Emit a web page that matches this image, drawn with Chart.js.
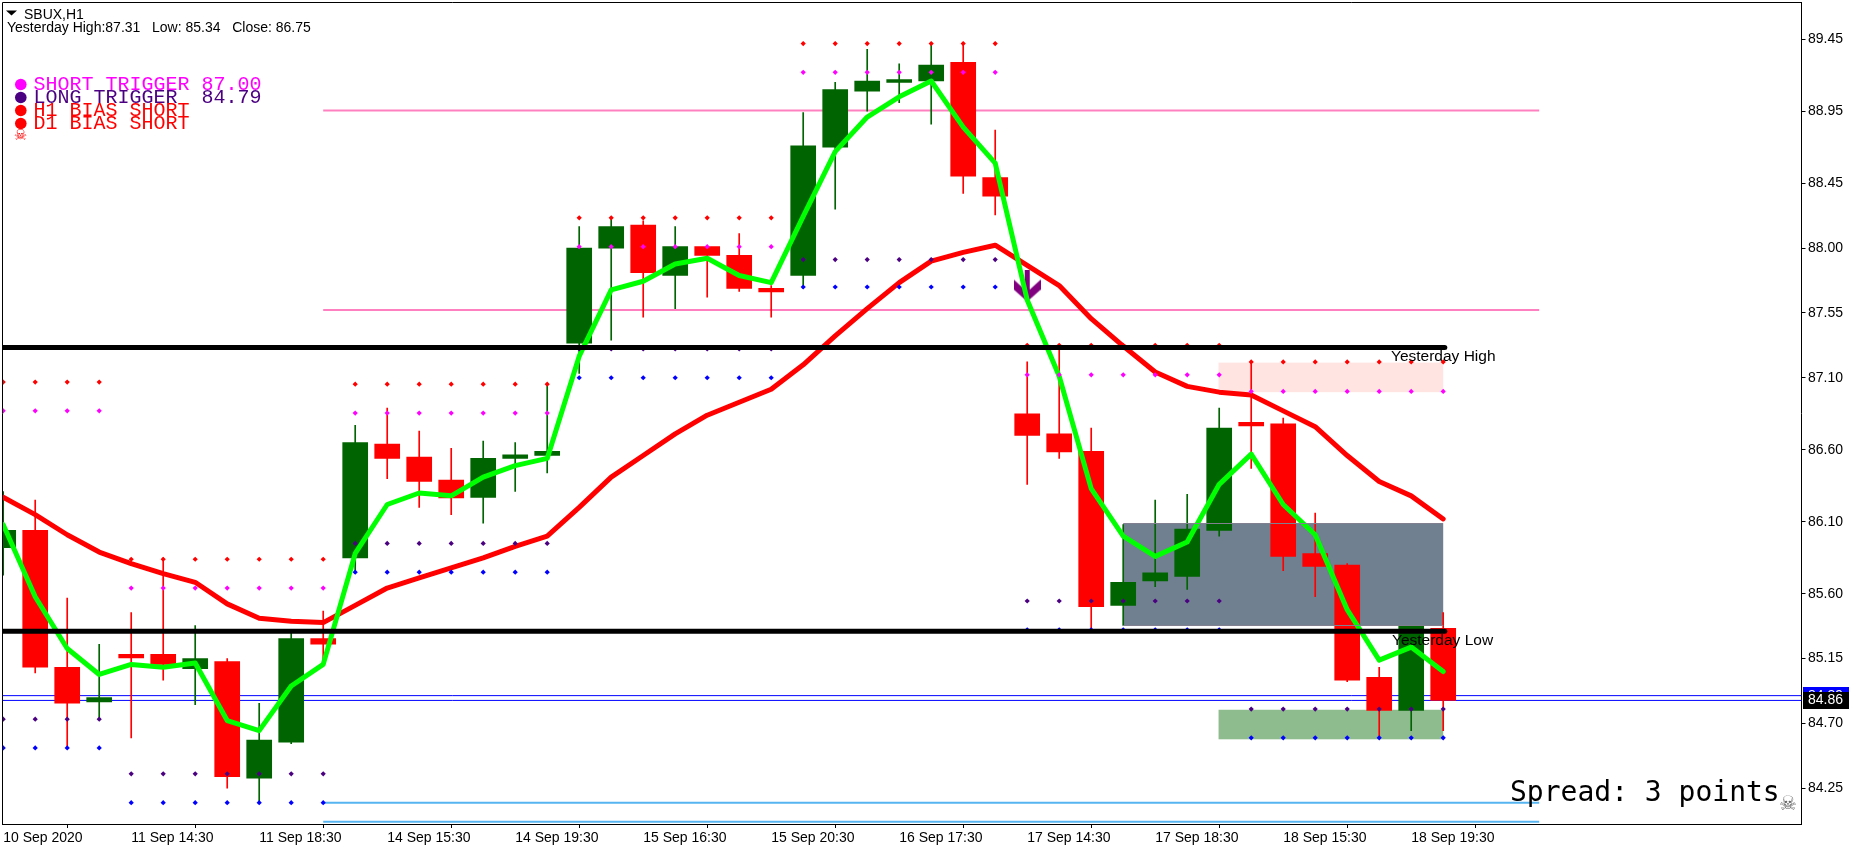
<!DOCTYPE html>
<html>
<head>
<meta charset="utf-8">
<style>html,body{margin:0;padding:0;background:#fff;overflow:hidden}canvas{display:block}</style>
<script src="https://cdn.jsdelivr.net/npm/chart.js@4"></script>
</head>
<body>
<canvas id="c" width="1857" height="851"></canvas>
<script>
// ---- tick labels
const xTickBars = [0,4,8,12,16,20,24,28,32,36,40,44];
const xTickLabels = ['10 Sep 2020','11 Sep 14:30','11 Sep 18:30','14 Sep 15:30','14 Sep 19:30','15 Sep 16:30','15 Sep 20:30','16 Sep 17:30','17 Sep 14:30','17 Sep 18:30','18 Sep 15:30','18 Sep 19:30'];
const yTicks = [89.45,88.95,88.45,88.00,87.55,87.10,86.60,86.10,85.60,85.15,84.70,84.25];
// ---- candles
const opens  = [85.92,86.04,85.09,84.85,85.18,85.18,85.08,85.13,84.32,84.57,85.29,85.85,86.64,86.55,86.39,86.27,86.54,86.56,87.34,88.00,88.16,87.81,88.01,87.95,87.72,87.81,88.70,89.09,89.15,89.16,89.29,88.49,86.85,86.71,86.59,85.52,85.69,85.72,86.04,86.79,86.78,85.88,85.80,85.02,84.79,85.36];
const closes = [86.04,85.09,84.84,84.88,85.155,85.11,85.15,84.33,84.585,85.29,85.25,86.65,86.54,86.38,86.265,86.54,86.565,86.59,88.00,88.15,87.83,88.01,87.95,87.72,87.695,88.71,89.10,89.16,89.17,89.27,88.50,88.36,86.70,86.585,85.51,85.68,85.745,86.05,86.75,86.765,85.86,85.79,85.00,84.79,85.38,84.86];
const highs  = [86.31,86.25,85.57,85.25,85.47,85.85,85.38,85.15,84.84,85.33,85.48,86.77,86.89,86.73,86.61,86.66,86.65,87.06,88.15,88.20,88.19,88.15,88.01,88.10,87.74,88.94,89.15,89.38,89.28,89.41,89.41,88.82,87.21,87.33,86.75,86.08,86.25,86.29,86.89,87.21,86.82,86.16,85.81,85.09,85.38,85.47];
const lows   = [85.73,85.05,84.53,84.74,84.60,85.00,84.83,84.25,84.15,84.56,85.10,85.74,86.40,86.20,86.15,86.09,86.31,86.44,87.13,87.36,87.52,87.58,87.66,87.70,87.52,87.72,88.27,88.95,89.01,88.86,88.38,88.23,86.36,86.54,85.36,85.38,85.65,85.63,86.00,86.47,85.76,85.58,84.99,84.60,84.65,84.65];
// ---- moving averages
const slowMA = [86.27,86.15,86.01,85.89,85.81,85.74,85.68,85.53,85.43,85.41,85.40,85.52,85.64,85.71,85.78,85.85,85.93,86.00,86.20,86.41,86.56,86.71,86.84,86.93,87.02,87.19,87.39,87.58,87.76,87.91,87.97,88.02,87.88,87.74,87.51,87.32,87.14,87.04,87.00,86.98,86.87,86.76,86.56,86.38,86.28,86.12];
const fastMA = [86.08,85.58,85.22,85.04,85.11,85.09,85.12,84.72,84.65,84.96,85.11,85.88,86.22,86.30,86.28,86.41,86.49,86.54,87.25,87.71,87.77,87.89,87.93,87.81,87.76,88.22,88.67,88.91,89.05,89.16,88.84,88.59,87.64,87.11,86.33,86.00,85.86,85.96,86.36,86.57,86.22,86.01,85.49,85.14,85.23,85.06];
// ---- per-session trigger dots
const sessionFirst = [0,4,11,18,25,32,39];
const sessionLast  = [3,10,17,24,31,38,45];
const redLevels     = [87.07,85.84,87.055,88.21,89.42,87.325,87.21];
const magentaLevels = [86.87,85.64,86.855,88.01,89.22,87.12,87.005];
const indigoLevels  = [84.73,84.35,85.95,87.30,87.92,85.55,84.80];
const blueLevels    = [84.53,84.15,85.75,87.10,87.73,85.35,84.60];
// ---- horizontal levels
const yesterdayHigh = 87.31, yesterdayLow = 85.34;
const pinkLevels = [88.955,87.57];
const skyLevels = [84.15,84.017];
const bidAskLevels = [84.893,84.86];
const levelFromBar = 10, levelToBar = 48;
const dayLineEndBar = 45.05;
// ---- boxes [fromBar,toBar,top,bottom]
const pinkBox  = [37.98,45,87.205,87.00];
const grayBox  = [35,45,86.085,85.38];
const greenBox = [37.98,45,84.795,84.59];
const arrowBar = [32], arrowPrice = [87.74];
const xMin = -0.022, xMax = 56.197, yMin = 84.002, yMax = 89.705;

const UP = '#006400', DOWN = '#FF0000';
const bars = opens.map((_,i)=>i);
const SANS = '"Liberation Sans"';

function dots(levels,color,order){
  const pts=[];
  levels.forEach((v,s)=>{for(let i=sessionFirst[s];i<=sessionLast[s];i++)pts.push({x:i,y:v});});
  return {type:'line',data:pts,showLine:false,pointStyle:'rectRot',pointRadius:2.6,pointBackgroundColor:color,pointBorderWidth:0,order};
}
function hline(x0,x1,v,color,width,order,cap){
  return {type:'line',data:[{x:x0,y:v},{x:x1,y:v}],borderColor:color,borderWidth:width,pointRadius:0,order,borderCapStyle:cap||'butt'};
}
const arrowCanvas=document.createElement('canvas');
arrowCanvas.width=27;arrowCanvas.height=32;
(function(){const a=arrowCanvas.getContext('2d');a.fillStyle='#800080';a.beginPath();
[[11,0],[16,0],[16,20],[27,10],[27,20],[13.5,32],[0,20],[0,10],[11,20]].forEach((p,i)=>i?a.lineTo(p[0],p[1]):a.moveTo(p[0],p[1]));
a.closePath();a.fill();})();

const boxes={
  id:'boxes',
  beforeDatasetsDraw(ch){
    const {ctx,scales:{x,y}}=ch;
    [[pinkBox,'#FFE4E1'],[grayBox,'#708090'],[greenBox,'#8FBC8F']].forEach(([b,c])=>{
      ctx.fillStyle=c;
      ctx.fillRect(x.getPixelForValue(b[0]),y.getPixelForValue(b[2]),x.getPixelForValue(b[1])-x.getPixelForValue(b[0]),y.getPixelForValue(b[3])-y.getPixelForValue(b[2]));
    });
  },
  afterDraw(ch){
    const {ctx,scales:{x,y},chartArea:a}=ch;
    ctx.save();
    // thin edges of the gray box sit above the candles
    ctx.strokeStyle='#808090';ctx.lineWidth=1;ctx.beginPath();
    [grayBox[2],grayBox[3]].forEach(v=>{const p=Math.floor(y.getPixelForValue(v))+0.5;ctx.moveTo(x.getPixelForValue(grayBox[0]),p);ctx.lineTo(x.getPixelForValue(grayBox[1]),p);});
    ctx.stroke();
    // frame top/left
    ctx.strokeStyle='#000';ctx.lineWidth=1;ctx.beginPath();
    ctx.moveTo(a.left,a.bottom);ctx.lineTo(a.left,a.top);ctx.lineTo(a.right,a.top);ctx.stroke();
    ctx.textBaseline='middle';ctx.textAlign='left';
    // header
    ctx.fillStyle='#000';
    ctx.beginPath();ctx.moveTo(6,10.5);ctx.lineTo(17,10.5);ctx.lineTo(11.5,15.5);ctx.closePath();ctx.fill();
    ctx.font='14px '+SANS;
    ctx.fillText('SBUX,H1',24,15);
    ctx.fillText('Yesterday High:87.31   Low: 85.34   Close: 86.75',7,28);
    // legend
    const rows=[['SHORT TRIGGER 87.00','#FF00FF',84.5],['LONG TRIGGER  84.79','#4B0082',97.5],['H1 BIAS SHORT','#FF0000',110.5],['D1 BIAS SHORT','#FF0000',123.5]];
    ctx.font='20px "Liberation Mono"';
    rows.forEach(r=>{
      ctx.fillStyle=r[1];
      ctx.beginPath();ctx.arc(20.8,r[2],5.8,0,Math.PI*2);ctx.fill();
      ctx.fillText(r[0],33.5,r[2]+0.5);
    });
    ctx.fillStyle='#FF0000';ctx.font='15px "DejaVu Sans"';ctx.textAlign='center';
    ctx.fillText('\u2620',20.5,136);
    ctx.textAlign='left';
    // labels
    ctx.fillStyle='#000';ctx.font='15.5px '+SANS;
    ctx.fillText('Yesterday High',1391,357);
    ctx.fillText('Yesterday Low',1392,641);
    ctx.font='28px "DejaVu Sans Mono"';
    ctx.fillText('Spread: 3 points',1510,794);
    ctx.fillStyle='#696969';ctx.font='20px "DejaVu Sans"';ctx.textAlign='center';
    ctx.fillText('\u2620',1788,805);
    // price tags
    ctx.textAlign='left';ctx.font='14px '+SANS;
    ctx.fillStyle='#0000FF';ctx.fillRect(1803,687,46,9);
    ctx.fillStyle='#fff';ctx.fillText(bidAskLevels[0].toFixed(2),1808,y.getPixelForValue(bidAskLevels[0]));
    ctx.fillStyle='#000';ctx.fillRect(1803,692,46,17);
    ctx.fillStyle='#fff';ctx.fillText(bidAskLevels[1].toFixed(2),1808,y.getPixelForValue(bidAskLevels[1]));
    ctx.restore();
  }
};

const datasets=[
  hline(xMin,dayLineEndBar,yesterdayHigh,'#000',5,0,'round'),
  hline(xMin,dayLineEndBar,yesterdayLow,'#000',5,0,'round'),
  dots(redLevels,'#FF0000',1),
  dots(magentaLevels,'#FF00FF',1),
  dots(indigoLevels,'#4B0082',1),
  dots(blueLevels,'#0000FF',1),
  {type:'line',data:bars.map(i=>({x:i,y:fastMA[i]})),borderColor:'#00FF00',borderWidth:5,pointRadius:0,tension:0,borderJoinStyle:'round',borderCapStyle:'round',order:2},
  {type:'line',data:bars.map(i=>({x:i,y:slowMA[i]})),borderColor:'#FF0000',borderWidth:5,pointRadius:0,tension:0,borderJoinStyle:'round',borderCapStyle:'round',order:3},
  {type:'line',data:arrowBar.map((b,i)=>({x:b,y:arrowPrice[i]})),showLine:false,pointStyle:arrowCanvas,pointRadius:14,order:4},
  {type:'bar',data:bars.map(i=>({x:i,y:[opens[i],closes[i]]})),backgroundColor:bars.map(i=>closes[i]>=opens[i]?UP:DOWN),barThickness:25,grouped:false,order:5},
  {type:'bar',data:bars.map(i=>({x:i,y:[lows[i],highs[i]]})),backgroundColor:bars.map(i=>closes[i]>=opens[i]?UP:DOWN),barThickness:1,grouped:false,order:6},
  ...pinkLevels.map(v=>hline(levelFromBar,levelToBar,v,'#FF80C0',2,7)),
  ...skyLevels.map(v=>hline(levelFromBar,levelToBar,v,'#56B4F0',2,7)),
  ...bidAskLevels.map(v=>hline(xMin,xMax,v,'#0000FF',1,7)),
];

new Chart(document.getElementById('c'),{
  data:{datasets},
  plugins:[boxes],
  options:{
    responsive:false,animation:false,
    layout:{autoPadding:false,padding:{left:2.5,top:2.5,right:0,bottom:0}},
    plugins:{legend:{display:false},tooltip:{enabled:false},title:{display:false}},
    scales:{
      x:{type:'linear',position:'bottom',min:xMin,max:xMax,offset:false,
        grid:{display:true,drawOnChartArea:false,drawTicks:true,tickLength:4,color:'#000',tickColor:'#000'},
        border:{display:true,color:'#000',width:1},
        afterFit(s){s.height=27;s.paddingLeft=0;s.paddingRight=0;s.paddingTop=0;s.paddingBottom=0;},
        afterBuildTicks(s){s.ticks=xTickBars.map(v=>({value:v}));},
        ticks:{autoSkip:false,maxRotation:0,minRotation:0,align:'start',padding:2,color:'#000',font:{family:'Liberation Sans',size:14},
          callback(v){return xTickLabels[xTickBars.indexOf(v)];}}
      },
      y:{type:'linear',position:'right',min:yMin,max:yMax,
        grid:{display:true,drawOnChartArea:false,drawTicks:true,tickLength:4,color:'#000',tickColor:'#000'},
        border:{display:true,color:'#000',width:1},
        afterFit(s){s.width=55.5;s.paddingLeft=0;s.paddingRight=0;s.paddingTop=0;s.paddingBottom=0;},
        afterBuildTicks(s){s.ticks=yTicks.map(v=>({value:v}));},
        ticks:{autoSkip:false,padding:2.5,color:'#000',font:{family:'Liberation Sans',size:14},
          callback(v){return Number(v).toFixed(2);}}
      }
    }
  }
});
</script>
</body>
</html>
